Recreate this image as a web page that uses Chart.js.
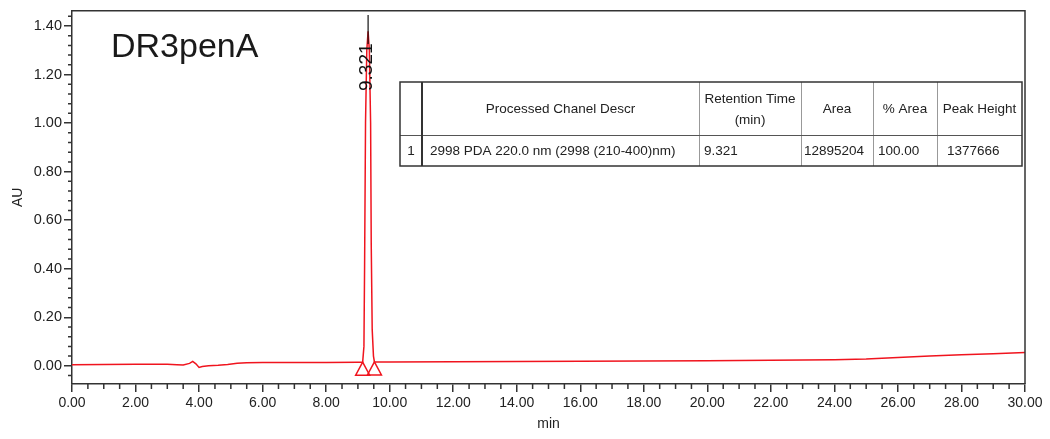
<!DOCTYPE html>
<html>
<head>
<meta charset="utf-8">
<script src="https://cdn.jsdelivr.net/npm/chart.js@4.4.0/dist/chart.umd.min.js"></script>
<style>
  html, body { margin: 0; padding: 0; background: #fff; }
</style>
</head>
<body>
<canvas id="myChart" width="1050" height="439"></canvas>
<script>
// chromatogram trace (min, AU)
const times = [
  0, 1, 2, 2.5, 3, 3.3, 3.5, 3.7, 3.8, 3.9, 4.0, 4.1, 4.3, 4.6, 4.9, 5.2, 5.5, 6, 7, 8, 9,
  9.15, 9.19, 9.21, 9.24, 9.28, 9.321, 9.36, 9.40, 9.42, 9.45, 9.49, 9.52,
  10, 12, 14, 16, 18, 20, 22, 24, 25, 26, 27, 28, 29, 30
]
const absorbance = [
  0.004, 0.005, 0.006, 0.006, 0.006, 0.004, 0.003, 0.010, 0.018, 0.008, -0.007, -0.003, 0.000, 0.002, 0.005, 0.010, 0.013, 0.014, 0.014, 0.014, 0.015,
  0.015, 0.08, 0.40, 1.00, 1.30, 1.378, 1.30, 1.00, 0.50, 0.15, 0.04, 0.016,
  0.016, 0.017, 0.018, 0.019, 0.020, 0.021, 0.023, 0.025, 0.028, 0.034, 0.040, 0.045, 0.050, 0.055
]

// peak start / end markers and apex
const peakBounds = [9.15, 9.52]
const boundLevels = [0.015, 0.016]
const peakApex = 9.321
const peakLabel = "9.321"
const sampleName = "DR3penA"

// results table
const tableHeaders = ["", "Processed Chanel Descr", ["Retention Time", "(min)"], "Area", "% Area", "Peak Height"]
const tableRow = ["1", "2998 PDA 220.0 nm (2998 (210-400)nm)", "9.321", "12895204", "100.00", "1377666"]

const axisColor = "#333"
const textColor = "#222"
const traceColor = "#f0141e"
const fontFamily = "'Liberation Sans', Arial, sans-serif"

const extras = {
    id: "extras",
    afterDraw(chart) {
        const { ctx, chartArea, scales: { x, y } } = chart
        ctx.save()

        // box top / right
        ctx.strokeStyle = axisColor
        ctx.lineWidth = 1.5
        ctx.beginPath()
        ctx.moveTo(chartArea.left, chartArea.top)
        ctx.lineTo(chartArea.right, chartArea.top)
        ctx.lineTo(chartArea.right, chartArea.bottom)
        ctx.stroke()

        // minor ticks
        ctx.beginPath()
        for (let i = 0; i <= 60; i++) {
            if (i % 4 === 0) continue
            const px = x.getPixelForValue(i * 0.5)
            ctx.moveTo(px, chartArea.bottom)
            ctx.lineTo(px, chartArea.bottom + 5)
        }
        for (let i = -1; i <= 36; i++) {
            if (i % 5 === 0) continue
            const py = y.getPixelForValue(i * 0.04)
            ctx.moveTo(chartArea.left - 4, py)
            ctx.lineTo(chartArea.left, py)
        }
        ctx.stroke()

        // peak start / end triangles
        ctx.strokeStyle = traceColor
        ctx.lineWidth = 1.5
        peakBounds.forEach((t, i) => {
            const px = x.getPixelForValue(t)
            const py = y.getPixelForValue(boundLevels[i])
            ctx.beginPath()
            ctx.moveTo(px, py)
            ctx.lineTo(px + 7, py + 13)
            ctx.lineTo(px - 7, py + 13)
            ctx.closePath()
            ctx.stroke()
        })

        // apex marker and label
        const ax = x.getPixelForValue(peakApex)
        ctx.strokeStyle = "#111"
        ctx.lineWidth = 1.2
        ctx.beginPath()
        ctx.moveTo(ax, 15)
        ctx.lineTo(ax, 44)
        ctx.stroke()
        ctx.save()
        ctx.translate(ax - 1, 91)
        ctx.rotate(-Math.PI / 2)
        ctx.fillStyle = "#111"
        ctx.font = "19px " + fontFamily
        ctx.textAlign = "left"
        ctx.textBaseline = "middle"
        ctx.fillText(peakLabel, 0, 0)
        ctx.restore()

        // sample name
        ctx.fillStyle = "#1a1a1a"
        ctx.font = "34px " + fontFamily
        ctx.textAlign = "left"
        ctx.textBaseline = "alphabetic"
        ctx.fillText(sampleName, 111, 57)

        // table
        const cols = [400, 422, 699, 801, 873, 937, 1022]
        const top = 82, mid = 135, bottom = 166
        const insets = [0, 8, 5, 3, 5, 10]
        ctx.fillStyle = "#fff"
        ctx.fillRect(cols[0], top, cols[6] - cols[0], bottom - top)

        ctx.strokeStyle = "#999"
        ctx.lineWidth = 1
        ctx.beginPath()
        for (let c = 2; c < 6; c++) {
            ctx.moveTo(cols[c] + 0.5, top)
            ctx.lineTo(cols[c] + 0.5, bottom)
        }
        ctx.stroke()

        ctx.strokeStyle = "#555"
        ctx.beginPath()
        ctx.moveTo(cols[0], mid + 0.5)
        ctx.lineTo(cols[6], mid + 0.5)
        ctx.stroke()

        ctx.strokeStyle = axisColor
        ctx.lineWidth = 2
        ctx.beginPath()
        ctx.moveTo(cols[1], top)
        ctx.lineTo(cols[1], bottom)
        ctx.stroke()
        ctx.lineWidth = 1.5
        ctx.strokeRect(cols[0], top, cols[6] - cols[0], bottom - top)

        ctx.fillStyle = textColor
        ctx.font = "13.5px " + fontFamily
        ctx.textBaseline = "middle"
        ctx.textAlign = "center"
        tableHeaders.forEach((h, c) => {
            const cx = (cols[c] + cols[c + 1]) / 2
            if (Array.isArray(h)) {
                ctx.fillText(h[0], cx, 99)
                ctx.fillText(h[1], cx, 120)
            } else {
                ctx.fillText(h, cx, 109)
            }
        })
        tableRow.forEach((v, c) => {
            if (c === 0) {
                ctx.textAlign = "center"
                ctx.fillText(v, (cols[0] + cols[1]) / 2, 151)
            } else {
                ctx.textAlign = "left"
                ctx.fillText(v, cols[c] + insets[c], 151)
            }
        })

        ctx.restore()
    }
}

const ctx = document.getElementById("myChart")

new Chart(ctx, {
    type: "line",
    data: {
        datasets: [{
            data: times.map((t, i) => ({ x: t, y: absorbance[i] })),
            borderColor: traceColor,
            borderWidth: 1.5,
            pointRadius: 0,
            tension: 0,
            fill: false
        }]
    },
    options: {
        responsive: false,
        animation: false,
        devicePixelRatio: 1,
        layout: { padding: { top: 10, right: 25, left: 0, bottom: 0 } },
        plugins: { legend: { display: false }, tooltip: { enabled: false } },
        scales: {
            x: {
                type: "linear",
                min: 0,
                max: 30,
                afterFit: (scale) => { scale.height = 55 },
                border: { display: true, color: axisColor, width: 1.5 },
                grid: { drawOnChartArea: false, drawTicks: true, tickLength: 8, color: axisColor, lineWidth: 1.5 },
                ticks: {
                    stepSize: 2,
                    padding: 3,
                    maxRotation: 0,
                    autoSkip: false,
                    color: textColor,
                    font: { family: fontFamily, size: 14 },
                    callback: (v) => Number(v).toFixed(2)
                },
                title: {
                    display: true,
                    text: "min",
                    color: textColor,
                    font: { family: fontFamily, size: 14 },
                    padding: { top: 0, bottom: 6 }
                }
            },
            y: {
                min: -0.075,
                max: 1.463,
                afterFit: (scale) => { scale.width = 72 },
                border: { display: true, color: axisColor, width: 1.5 },
                grid: { drawOnChartArea: false, drawTicks: true, tickLength: 8, color: axisColor, lineWidth: 1.5 },
                ticks: {
                    stepSize: 0.2,
                    includeBounds: false,
                    padding: 2,
                    autoSkip: false,
                    color: textColor,
                    font: { family: fontFamily, size: 14.5 },
                    callback: (v) => Number(v).toFixed(2)
                },
                title: {
                    display: true,
                    text: "AU",
                    color: textColor,
                    font: { family: fontFamily, size: 14 },
                    padding: { top: 10, bottom: 0 }
                }
            }
        }
    },
    plugins: [extras]
});
</script>
</body>
</html>
